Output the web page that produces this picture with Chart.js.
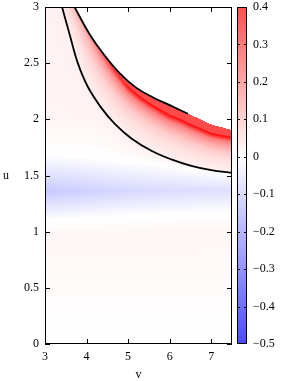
<!DOCTYPE html>
<html><head><meta charset="utf-8">
<script src="https://cdn.jsdelivr.net/npm/chart.js@4/dist/chart.umd.min.js"></script>
<style>html,body{margin:0;padding:0;background:#fff;overflow:hidden}</style>
</head><body>
<canvas id="c" width="283" height="381"></canvas>
<script>
// ---- tick values ----
const xTicks = [3, 4, 5, 6, 7];
const yTicks = [0, 0.5, 1, 1.5, 2, 2.5, 3];
const cbTicks = [-0.5, -0.4, -0.3, -0.2, -0.1, 0, 0.1, 0.2, 0.3, 0.4];

// ---- black curves (v, u) ----
const lowerCurveV = [3.41, 3.59, 3.79, 4.03, 4.36, 4.68, 5.08, 5.56, 6.04, 6.52, 7.0, 7.5];
const lowerCurveU = [3.0, 2.76, 2.50, 2.29, 2.10, 1.96, 1.83, 1.72, 1.643, 1.586, 1.548, 1.523];
const upperCurveV = [3.71, 4.07, 4.39, 4.80, 5.20, 5.60, 6.0, 6.44];
const upperCurveU = [3.0, 2.76, 2.59, 2.41, 2.28, 2.195, 2.126, 2.05];

// ---- heat map: columns in v; each level = u position per column + value on it ----
const vGrid = [3, 3.25, 3.5, 3.75, 4, 4.25, 4.5, 4.75, 5, 5.25, 5.5, 5.75, 6, 6.25, 6.5, 6.75, 7, 7.25, 7.5];

const uFloor = [0,0,0,0,0,0,0,0,0,0,0,0,0,0,0,0,0,0,0];
const zFloor = 0;
const uFaint = [0.4,0.4,0.4,0.4,0.4,0.4,0.4,0.4,0.4,0.4,0.4,0.4,0.4,0.4,0.4,0.4,0.4,0.4,0.4];
const zFaint = 0.006;
const uPinkLow = [0.95,0.95,0.95,0.95,0.95,0.95,0.95,0.96,0.96,0.97,0.97,0.98,0.98,0.99,0.99,1.0,1.0,1.0,1.0];
const zPinkLow = 0.022;
const uZeroLow = [1.10,1.10,1.11,1.11,1.12,1.12,1.13,1.13,1.14,1.14,1.14,1.15,1.15,1.15,1.16,1.16,1.16,1.16,1.17];
const zZeroLow = 0;
const uBlue = [1.36,1.36,1.36,1.36,1.36,1.36,1.36,1.36,1.365,1.365,1.365,1.365,1.37,1.37,1.37,1.37,1.37,1.37,1.37];
const zBlue = [-0.15,-0.145,-0.14,-0.135,-0.13,-0.125,-0.12,-0.115,-0.11,-0.107,-0.104,-0.101,-0.098,-0.096,-0.094,-0.092,-0.09,-0.09,-0.09];
const uZeroHigh = [1.69,1.685,1.68,1.675,1.665,1.655,1.645,1.635,1.625,1.615,1.605,1.595,1.585,1.575,1.56,1.55,1.535,1.52,1.505];
const zZeroHigh = 0;
const uPinkHigh = [1.95,1.95,1.95,1.95,1.95,1.95,1.9,1.82,1.75,1.71,1.675,1.645,1.62,1.597,1.575,1.558,1.542,1.528,1.515];
const zPinkHigh = [0.022,0.022,0.022,0.022,0.022,0.022,0.022,0.022,0.022,0.022,0.022,0.022,0.02,0.018,0.015,0.012,0.01,0.008,0.006];
const uLowerCurve = [3.9,3.25,2.87,2.55,2.31,2.16,2.04,1.935,1.85,1.785,1.733,1.685,1.65,1.615,1.588,1.565,1.548,1.535,1.523];
const zLowerCurve = [0.035,0.035,0.035,0.035,0.035,0.035,0.035,0.035,0.035,0.035,0.035,0.035,0.034,0.033,0.032,0.032,0.032,0.032,0.032];
const uLev1 = [4.05,3.306,2.953,2.685,2.468,2.322,2.198,2.088,2.0,1.93,1.87,1.82,1.777,1.742,1.709,1.681,1.656,1.641,1.628];
const zLev1 = [0.05,0.05,0.055,0.055,0.06,0.065,0.07,0.07,0.07,0.07,0.07,0.07,0.07,0.07,0.07,0.07,0.07,0.07,0.07];
const uLev2 = [4.15,3.344,3.008,2.776,2.574,2.43,2.304,2.191,2.099,2.026,1.963,1.91,1.862,1.827,1.79,1.758,1.728,1.711,1.697];
const zLev2 = [0.06,0.06,0.07,0.075,0.085,0.1,0.11,0.12,0.12,0.12,0.12,0.12,0.12,0.12,0.12,0.12,0.12,0.12,0.12];
const uLev3 = [4.22,3.372,3.05,2.845,2.656,2.513,2.386,2.27,2.171,2.095,2.032,1.978,1.928,1.892,1.852,1.817,1.783,1.765,1.751];
const zLev3 = [0.07,0.07,0.085,0.1,0.12,0.15,0.17,0.19,0.2,0.2,0.2,0.2,0.2,0.2,0.2,0.2,0.2,0.2,0.2];
const uLev4 = [4.3,3.398,3.088,2.907,2.728,2.586,2.458,2.34,2.235,2.157,2.092,2.038,1.986,1.95,1.907,1.87,1.832,1.813,1.799];
const zLev4 = [0.08,0.085,0.1,0.13,0.16,0.21,0.25,0.28,0.3,0.3,0.3,0.3,0.3,0.3,0.3,0.3,0.3,0.3,0.3];
const uRidge = [4.38,3.42,3.12,2.96,2.79,2.65,2.52,2.40,2.29,2.21,2.145,2.09,2.036,2.0,1.955,1.915,1.875,1.855,1.84];
const zRidge = [0.1,0.1,0.12,0.16,0.22,0.30,0.40,0.48,0.55,0.56,0.56,0.56,0.56,0.56,0.56,0.56,0.56,0.56,0.56];
const uShoulder = [4.385,3.425,3.125,2.965,2.795,2.655,2.53,2.41,2.30,2.22,2.155,2.10,2.046,2.01,1.965,1.925,1.885,1.865,1.85];
const zShoulder = [0.1,0.1,0.12,0.16,0.22,0.30,0.38,0.40,0.42,0.42,0.42,0.42,0.42,0.42,0.42,0.42,0.42,0.42,0.42];
const uEdge = [4.39,3.43,3.13,2.97,2.80,2.66,2.54,2.43,2.34,2.27,2.215,2.17,2.126,2.085,2.04,2.0,1.955,1.93,1.905];
const zEdge = [0.1,0.1,0.12,0.16,0.22,0.30,0.36,0.40,0.40,0.40,0.40,0.40,0.40,0.40,0.40,0.40,0.40,0.40,0.40];

const levels = [
  [uFloor, zFloor], [uFaint, zFaint], [uPinkLow, zPinkLow], [uZeroLow, zZeroLow],
  [uBlue, zBlue], [uZeroHigh, zZeroHigh], [uPinkHigh, zPinkHigh], [uLowerCurve, zLowerCurve],
  [uLev1, zLev1], [uLev2, zLev2], [uLev3, zLev3], [uLev4, zLev4],
  [uRidge, zRidge], [uShoulder, zShoulder], [uEdge, zEdge]
];

const CB_MIN = -0.5, CB_MAX = 0.4;
const FONT = "'Liberation Serif', serif";

function colorOf(z) {
  if (z >= 0) { const g = Math.max(0, Math.round(255 - 175 * z / 0.4)); return [255, g, g]; }
  const c = Math.max(0, Math.round(255 - 180 * (-z) / 0.5)); return [c, c, 255];
}
function columnAt(v) {
  let i = 0;
  while (i < vGrid.length - 2 && v > vGrid[i + 1]) i++;
  const t = Math.max(0, Math.min(1, (v - vGrid[i]) / (vGrid[i + 1] - vGrid[i])));
  return levels.map(([U, Z]) => ({
    u: U[i] + (U[i + 1] - U[i]) * t,
    z: Array.isArray(Z) ? Z[i] + (Z[i + 1] - Z[i]) * t : Z
  }));
}
function valueAt(col, u) {
  if (u > col[col.length - 1].u) return null;
  for (let k = 0; k < col.length - 1; k++) {
    if (u <= col[k + 1].u) {
      const a = col[k], b = col[k + 1];
      const d = b.u - a.u;
      const t = d > 0 ? (u - a.u) / d : 1;
      return a.z + (b.z - a.z) * Math.max(0, Math.min(1, t));
    }
  }
  return null;
}
const fmt = v => (Math.round(v * 10) / 10).toString().replace('-', '\u2212');

const heatmapPlugin = {
  id: 'heatmap',
  beforeDatasetsDraw(chart) {
    const {ctx, chartArea: a, scales: {x, y}} = chart;
    const L = Math.round(a.left), T = Math.round(a.top);
    const W = Math.round(a.right) - L, H = Math.round(a.bottom) - T;
    const off = document.createElement('canvas');
    off.width = W; off.height = H;
    const octx = off.getContext('2d');
    const img = octx.createImageData(W, H);
    for (let px = 0; px < W; px++) {
      const col = columnAt(x.getValueForPixel(L + px + 0.5));
      for (let py = 0; py < H; py++) {
        const z = valueAt(col, y.getValueForPixel(T + py + 0.5));
        const c = z === null ? [255, 255, 255] : colorOf(z);
        const o = (py * W + px) * 4;
        img.data[o] = c[0]; img.data[o + 1] = c[1]; img.data[o + 2] = c[2]; img.data[o + 3] = 255;
      }
    }
    octx.putImageData(img, 0, 0);
    ctx.drawImage(off, L, T);
  },
  afterDatasetsDraw(chart) {
    const {ctx, chartArea: a, scales: {x, y, cb}} = chart;
    ctx.save();
    ctx.strokeStyle = '#000';
    ctx.lineWidth = 1;
    // plot frame
    ctx.strokeRect(a.left + 0.5, a.top + 0.5, a.right - a.left - 1, a.bottom - a.top - 1);
    const tk = 5;
    ctx.beginPath();
    xTicks.forEach(v => {
      const p = Math.round(x.getPixelForValue(v)) + 0.5;
      ctx.moveTo(p, a.bottom); ctx.lineTo(p, a.bottom - tk);
      ctx.moveTo(p, a.top); ctx.lineTo(p, a.top + tk);
    });
    yTicks.forEach(v => {
      const p = Math.round(y.getPixelForValue(v)) + 0.5;
      ctx.moveTo(a.left, p); ctx.lineTo(a.left + tk, p);
      ctx.moveTo(a.right, p); ctx.lineTo(a.right - tk, p);
    });
    ctx.stroke();
    // colour bar
    const bx0 = a.right + 5, bx1 = a.right + 15;
    const top = Math.round(cb.getPixelForValue(CB_MAX)), bot = Math.round(cb.getPixelForValue(CB_MIN));
    for (let py = top; py < bot; py++) {
      const c = colorOf(cb.getValueForPixel(py + 0.5));
      ctx.fillStyle = `rgb(${c[0]},${c[1]},${c[2]})`;
      ctx.fillRect(bx0, py, bx1 - bx0, 1);
    }
    ctx.strokeRect(bx0 + 0.5, top + 0.5, bx1 - bx0 - 1, bot - top - 1);
    ctx.beginPath();
    cbTicks.forEach(v => {
      if (v === CB_MIN || v === CB_MAX) return;
      const p = Math.round(cb.getPixelForValue(v)) + 0.5;
      ctx.moveTo(bx0, p); ctx.lineTo(bx0 + 3, p);
      ctx.moveTo(bx1, p); ctx.lineTo(bx1 - 3, p);
    });
    ctx.stroke();
    // y axis title (upright)
    ctx.fillStyle = '#000';
    ctx.font = `12px ${FONT}`;
    ctx.textAlign = 'center';
    ctx.textBaseline = 'middle';
    ctx.fillText('u', 6, (a.top + a.bottom) / 2);
    ctx.restore();
  }
};

const tickFont = {family: FONT, size: 12};
new Chart(document.getElementById('c'), {
  type: 'scatter',
  data: {
    datasets: [
      {data: lowerCurveV.map((v, i) => ({x: v, y: lowerCurveU[i]})), showLine: true,
       borderColor: '#000', borderWidth: 1.8, pointRadius: 0, tension: 0.4},
      {data: upperCurveV.map((v, i) => ({x: v, y: upperCurveU[i]})), showLine: true,
       borderColor: '#000', borderWidth: 1.8, pointRadius: 0, tension: 0.4}
    ]
  },
  options: {
    responsive: false, animation: false, devicePixelRatio: 1,
    layout: {padding: {top: 7, left: 0, right: 0, bottom: 0}},
    plugins: {legend: {display: false}, tooltip: {enabled: false}},
    scales: {
      x: {
        type: 'linear', position: 'bottom', min: 3, max: 7.5,
        grid: {display: false, drawTicks: false}, border: {display: false},
        ticks: {font: tickFont, color: '#000', padding: 6, maxRotation: 0, callback: fmt},
        afterBuildTicks: s => { s.ticks = xTicks.map(v => ({value: v})); },
        title: {display: true, text: 'v', font: {family: FONT, size: 12, lineHeight: 1}, color: '#000', padding: {top: 0, bottom: 0}},
        afterFit: s => { s.height = 37; s.paddingLeft = 0; s.paddingRight = 0; }
      },
      y: {
        type: 'linear', position: 'left', min: 0, max: 3,
        grid: {display: false, drawTicks: false}, border: {display: false},
        ticks: {font: tickFont, color: '#000', padding: 6, callback: fmt},
        afterBuildTicks: s => { s.ticks = yTicks.map(v => ({value: v})); },
        afterFit: s => { s.width = 45; s.paddingTop = 0; s.paddingBottom = 0; }
      },
      cb: {
        type: 'linear', position: 'right', axis: 'y', min: CB_MIN, max: CB_MAX,
        grid: {display: false, drawTicks: false}, border: {display: false},
        ticks: {font: tickFont, color: '#000', padding: 21, callback: fmt},
        afterBuildTicks: s => { s.ticks = cbTicks.map(v => ({value: v})); },
        afterFit: s => { s.width = 51; s.paddingTop = 0; s.paddingBottom = 0; }
      }
    }
  },
  plugins: [heatmapPlugin]
});
</script>
</body></html>
